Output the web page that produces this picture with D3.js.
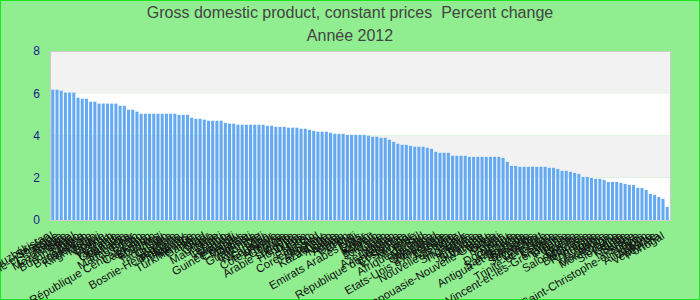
<!DOCTYPE html>
<html>
<head>
<meta charset="utf-8">
<script src="https://cdn.jsdelivr.net/npm/d3@7"></script>
<style>
  body { margin: 0; background: #90ee90; }
  svg { display: block; font-family: "Liberation Sans", Arial, sans-serif; }
</style>
</head>
<body>
<div id="vis"></div>
<script>
// chart data
var chartTitle = "Gross domestic product, constant prices  Percent change";
var chartSubtitle = "Année 2012";

var countries = [
  "Ouzbékistan", "Sénégal", "Sao Tomé-et-Principe", "Kenya", "Cambodge", "Mozambique", "Népal",
  "Burkina Faso", "Libéria", "Bangladesh", "Indonésie", "Kirghizistan", "Malawi", "Bolivie",
  "Pérou", "Vietnam", "Tanzanie", "Ouganda", "Panama", "Sri Lanka", "Madagascar", "Bénin", "Togo",
  "République Centrafricaine", "Cameroun", "Bhoutan", "Maldives", "Mali", "Tadjikistan", "Guyana",
  "Zambie", "Bosnie-Herzégovine", "Paraguay", "Philippines", "Maurice", "Turkménistan", "Gambie",
  "Tchad", "Niger", "Ghana", "Mauritanie", "Haïti", "Lesotho", "Rwanda", "Burundi", "Guinée-Bissau",
  "Comores", "Malaisie", "Djibouti", "Guatemala", "Colombie", "Chili", "Nicaragua", "Équateur",
  "Côte d'Ivoire", "Arménie", "Géorgie", "Tunisie", "Arabie saoudite", "Égypte", "Honduras", "Inde",
  "Maroc", "Pakistan", "Corée du Sud", "Uruguay", "Argentine", "Kazakhstan", "Algérie", "Nigeria",
  "Angola", "Gabon", "Chine", "Fidji", "Emirats Arabes Unis", "Qatar", "Oman", "Koweït", "Bahreïn",
  "Jordanie", "Liban", "Turquie", "Azerbaïdjan", "Albanie", "République dominicaine", "Costa Rica",
  "El Salvador", "Mexique", "Brésil", "Afrique du Sud", "Namibie", "Botswana", "Swaziland", "Zimbabwe",
  "Etats-Unis d'Amérique", "Canada", "Australie", "Nouvelle-Zélande", "Israël", "Singapour",
  "Thaïlande", "Bélize", "Jamaïque", "Suriname", "Vanuatu", "Papouasie-Nouvelle-Guinée", "Tonga",
  "Kiribati", "Palaos", "Tuvalu", "Dominique", "Grenade", "Sainte-Lucie", "Antigua-et-Barbuda",
  "Barbade", "Bahamas", "Seychelles", "Cap-Vert", "Érythrée", "Trinité-et-Tobago", "Estonie",
  "Lettonie", "Saint-Vincent-et-les-Grenadines", "Lituanie", "Pologne", "Russie", "Ukraine",
  "Salomon, Îles", "Moldavie", "Biélorussie", "Roumanie", "Bulgarie", "Serbie", "Macédoine",
  "Monténégro", "Croatie", "Slovaquie", "Islande", "Suède", "Norvège", "Suisse",
  "Saint-Christophe-et-Niévès", "Japon", "Allemagne", "Autriche", "Venezuela", "Portugal"
];

var growth = [
  6.17, 6.17, 6.12, 6.03, 6.03, 6.03, 5.79, 5.74, 5.74, 5.60, 5.60, 5.51, 5.51, 5.51, 5.51, 5.51,
  5.41, 5.41, 5.22, 5.22, 5.13,
  5.03, 5.03, 5.03, 5.03, 5.03, 5.03, 5.03, 5.03, 5.03,
  4.98, 4.98, 4.98, 4.84, 4.79, 4.79, 4.75, 4.70, 4.70, 4.70, 4.70, 4.60, 4.56, 4.56,
  4.51, 4.51, 4.51, 4.51, 4.51, 4.51, 4.51, 4.46, 4.46, 4.41, 4.41, 4.41, 4.37, 4.37, 4.37,
  4.32, 4.32, 4.27, 4.22, 4.18, 4.18, 4.18, 4.13, 4.08, 4.08, 4.08, 4.03, 4.03, 4.03, 4.03, 4.03,
  3.99, 3.94, 3.94, 3.89, 3.89, 3.80, 3.70, 3.61, 3.56, 3.56, 3.51, 3.47, 3.47,
  3.47, 3.42, 3.37, 3.23, 3.18, 3.18, 3.18, 3.04, 3.04, 3.04, 3.04,
  2.99, 2.99, 2.99, 2.99, 2.99, 2.99, 2.99, 2.99, 2.94, 2.75, 2.56, 2.56,
  2.52, 2.52, 2.52, 2.52, 2.52, 2.52, 2.52,
  2.47, 2.47, 2.42, 2.33, 2.33, 2.28, 2.23, 2.18, 2.04, 2.04, 1.99, 1.95, 1.95, 1.90,
  1.80, 1.80, 1.80, 1.76, 1.71, 1.66, 1.66, 1.52, 1.52, 1.42, 1.23, 1.19, 1.09, 1.00, 0.62
];

var yTicks = [0, 2, 4, 6, 8];

// size and margins of the vis area
var width = 700;
var height = 300;
var margin = { top: 51, left: 50, bottom: 80, right: 30 };
var plotW = width - margin.left - margin.right;
var plotH = height - margin.top - margin.bottom;

var svg = d3.select('#vis').append('svg')
  .attr('width', width)
  .attr('height', height);

// background + outer border
svg.append('rect')
  .attr('x', 0.5).attr('y', 0.5)
  .attr('width', width - 1).attr('height', height - 1)
  .attr('fill', '#90ee90')
  .attr('stroke', '#1ee61e');

// titles
svg.append('text')
  .attr('x', width / 2).attr('y', 18)
  .attr('text-anchor', 'middle')
  .attr('font-size', 16)
  .attr('fill', '#444')
  .style('white-space', 'pre')
  .text(chartTitle);

svg.append('text')
  .attr('x', width / 2).attr('y', 41)
  .attr('text-anchor', 'middle')
  .attr('font-size', 16)
  .attr('fill', '#444')
  .text(chartSubtitle);

var g = svg.append('g')
  .attr('transform', 'translate(' + margin.left + ',' + margin.top + ')');

var x = d3.scaleBand()
  .domain(countries)
  .range([0, plotW])
  .paddingInner(0.28)
  .paddingOuter(0.3);

var y = d3.scaleLinear()
  .domain([0, 8])
  .range([plotH, 0]);

// alternating bands
var bands = d3.pairs(yTicks);
g.selectAll('.band')
  .data(bands)
  .enter().append('rect')
  .attr('class', 'band')
  .attr('x', 0)
  .attr('width', plotW)
  .attr('y', function (d) { return y(d[1]); })
  .attr('height', function (d) { return y(d[0]) - y(d[1]); })
  .attr('fill', function (d, i) { return i % 2 === 0 ? '#ffffff' : '#f2f2f2'; });

// bars
g.selectAll('.bar')
  .data(growth)
  .enter().append('rect')
  .attr('class', 'bar')
  .attr('x', function (d, i) { return x(countries[i]); })
  .attr('width', x.bandwidth())
  .attr('y', function (d) { return y(d); })
  .attr('height', function (d) { return plotH - y(d); })
  .attr('fill', '#63a9f4');

// plot border
g.append('rect')
  .attr('x', 0.5).attr('y', 0.5)
  .attr('width', plotW).attr('height', plotH)
  .attr('fill', 'none')
  .attr('stroke', '#cccccc');

// y axis
var yAxis = g.append('g')
  .call(d3.axisLeft(y).tickValues(yTicks).tickSize(0).tickPadding(10));
yAxis.select('.domain').remove();
yAxis.selectAll('text')
  .attr('font-size', 12)
  .attr('font-family', '"Liberation Sans", Arial, sans-serif')
  .attr('fill', '#1a1a8c');

// x axis labels, rotated
var xAxis = g.append('g')
  .attr('transform', 'translate(0,' + plotH + ')')
  .call(d3.axisBottom(x).tickSize(0).tickPadding(0));
xAxis.select('.domain').remove();
xAxis.selectAll('text')
  .attr('font-size', 11.5)
  .attr('font-family', '"Liberation Sans", Arial, sans-serif')
  .attr('fill', '#111')
  .attr('text-anchor', 'end')
  .attr('dy', null)
  .attr('y', 0)
  .attr('transform', 'translate(-2,18) rotate(-30)');
</script>
</body>
</html>
